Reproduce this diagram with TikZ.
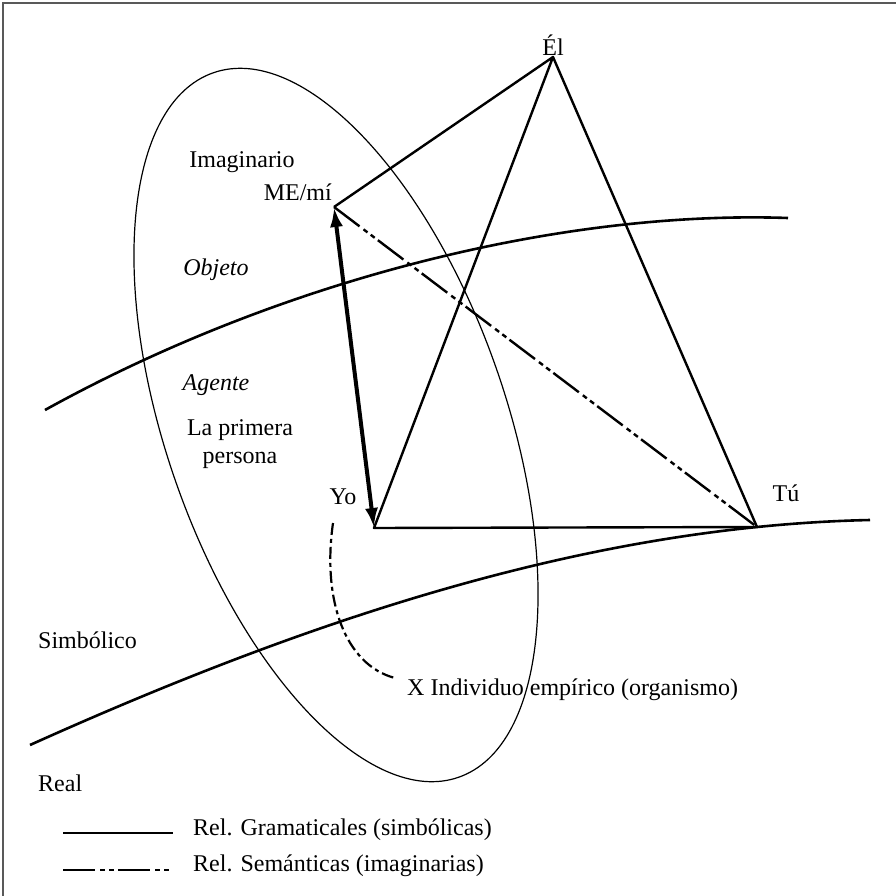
\documentclass[tikz,border=0pt]{standalone}
\usepackage{fontspec}
\setmainfont{Liberation Serif}
\usepackage{tikz}
\tikzset{>=latex}
\usetikzlibrary{arrows.meta}

\tikzset{
  rel/.style={line width=2.4pt, line join=round},
  sem/.style={line width=2.4pt, dash pattern={on 32pt off 5pt on 5pt off 4pt on 5pt off 4pt}},
  zone/.style={line width=2.6pt},
  orgline/.style={line width=2.2pt, dash pattern={on 12pt off 4pt on 4pt off 4pt}},
  lbl/.style={font=\fontsize{24}{28}\selectfont, inner sep=0pt},
}

\begin{document}
\begin{tikzpicture}[x=1pt, y=-1pt]

    \useasboundingbox (0,0) rectangle (896,896);
    \clip (0,0) rectangle (896,896);
    \fill[white] (0,0) rectangle (896,896);
    \draw[line width=2pt, gray!70!black] (3,3) rectangle (920,920);

    % Vertices
    \coordinate (el) at (553,57);
    \coordinate (me) at (334,207);
    \coordinate (yo) at (374,528);
    \coordinate (tu) at (757,527);

    % Ellipse
    \draw[line width=1.2pt, rotate around={19.2:(336,425)}] (336,425) ellipse [x radius=170, y radius=373];

    % Zone boundaries
    \draw[zone] (45,410) .. controls (280,280) and (560,210) .. (788,218);
    \draw[zone] (30,745) .. controls (310,619) and (590,526) .. (870,520);

    % Relations
    \draw[rel] (me) -- (el) -- (tu) -- (yo) -- (el);
    \draw[sem] (me) -- (tu);
    \draw[line width=4pt, <->, >={Latex[length=20pt, width=13pt]}] (me) -- (yo);

    % Labels
    \node[lbl] (ellbl) at (553,45) {Él};
    \node[lbl] (imag) at (242,162) {Imaginario};
    \node[lbl, anchor=east] (melbl) at (332,192) {ME/mí};
    \node[lbl, font=\fontsize{24}{28}\selectfont\itshape] (obj) at (216,270) {Objeto};
    \node[lbl, font=\fontsize{24}{28}\selectfont\itshape] (agt) at (216,385) {Agente};
    \node[lbl, align=center] (prim) at (240,444) {La primera\\persona};
    \node[lbl] (yolbl) at (343,497) {Yo};
    \node[lbl] (tulbl) at (786,493) {Tú};
    \node[lbl, anchor=west] (simb) at (38,640) {Simbólico};
    \node[lbl, anchor=west] (real) at (38,783) {Real};
    \node[lbl, anchor=west] (indiv) at (407,690) {X Individuo empírico (organismo)};

    % Yo -> individuo
    \draw[orgline] (333,523) .. controls (322,600) and (345,665) .. (395,678);

    % Legend
    \coordinate (ga) at (63,833);
    \coordinate (gb) at (173,833);
    \coordinate (sa) at (63,870);
    \coordinate (sb) at (172,870);
    \draw[rel] (ga) -- (gb);
    \draw[sem] (sa) -- (sb);
    \node[lbl, anchor=west] (gram) at (193,830) {Rel. Gramaticales (simbólicas)};
    \node[lbl, anchor=west] (sema) at (193,866) {Rel. Semánticas (imaginarias)};

\end{tikzpicture}
\end{document}
